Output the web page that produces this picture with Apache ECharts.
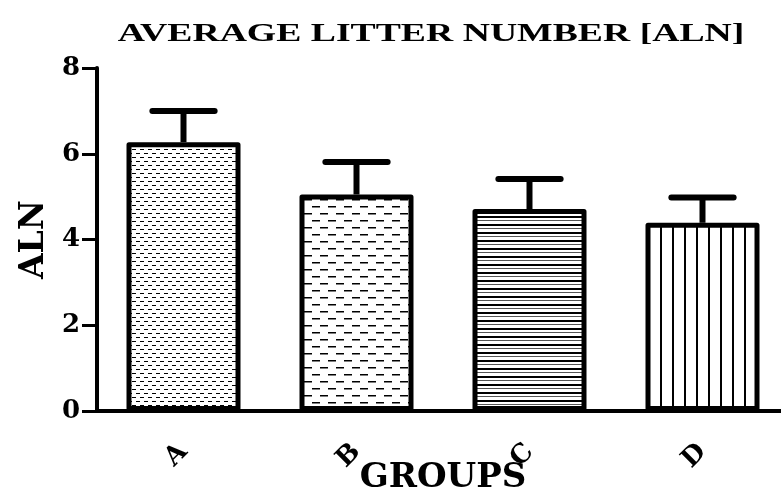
<!DOCTYPE html>
<html>
<head>
<meta charset="utf-8">
<script src="https://cdn.jsdelivr.net/npm/echarts@6/dist/echarts.min.js"></script>
<style>
  html, body { margin: 0; padding: 0; background: #fff; }
  #chart { width: 781px; height: 497px; }
</style>
</head>
<body>
<div id="chart"></div>
<script>
var groups = ['A', 'B', 'C', 'D'];
var alnMean = [6.27, 5.05, 4.71, 4.39];
var alnSd = [0.73, 0.76, 0.7, 0.59];
var yTicks = [0, 2, 4, 6, 8];

var serifFont = '"DejaVu Serif", "Liberation Serif", serif';
var timesFont = '"Liberation Serif", "DejaVu Serif", serif';

// fill patterns, drawn once on small canvases
function makePattern(w, h, draw) {
    var c = document.createElement('canvas');
    c.width = w;
    c.height = h;
    var ctx = c.getContext('2d');
    ctx.fillStyle = '#fff';
    ctx.fillRect(0, 0, w, h);
    ctx.fillStyle = '#000';
    draw(ctx);
    return { image: c, repeat: 'repeat' };
}

var patterns = [
    // fine dashes
    makePattern(8, 8, function (ctx) {
        ctx.fillRect(0, 1, 4, 1);
        ctx.fillRect(4, 5, 4, 1);
    }),
    // wide dashes
    makePattern(16, 14, function (ctx) {
        ctx.fillRect(0, 3, 8, 1.5);
        ctx.fillRect(8, 10, 8, 1.5);
    }),
    // horizontal lines
    makePattern(4, 8, function (ctx) {
        ctx.fillRect(0, 0, 4, 2);
        ctx.fillStyle = '#555';
        ctx.fillRect(0, 4, 4, 1);
    }),
    // vertical lines
    makePattern(12, 4, function (ctx) {
        ctx.fillRect(0, 0, 2, 4);
    })
];

var barData = alnMean.map(function (v, i) {
    return { value: v, itemStyle: { color: patterns[i] } };
});

var errData = alnMean.map(function (v, i) {
    return [i, v, v + alnSd[i]];
});

var myChart = echarts.init(document.getElementById('chart'));

var option = {
    animation: false,
    backgroundColor: '#fff',
    grid: { left: 97, right: -8, top: 68, bottom: 86, outerBoundsMode: 'none' },
    graphic: [{
        type: 'group',
        x: 431,
        y: 34,
        scaleX: 1.45,
        children: [{
            type: 'text',
            style: {
                text: 'AVERAGE LITTER NUMBER [ALN]',
                font: 'bold 26px ' + timesFont,
                fill: '#000',
                align: 'center',
                verticalAlign: 'middle'
            }
        }]
    }],
    xAxis: {
        type: 'category',
        data: groups,
        name: 'GROUPS',
        nameLocation: 'middle',
        nameGap: 50,
        nameMoveOverlap: false,
        nameTextStyle: { fontFamily: serifFont, fontWeight: 'bold', fontSize: 34, color: '#000' },
        axisLine: { lineStyle: { color: '#000', width: 4 } },
        axisTick: { alignWithLabel: true, length: 12, lineStyle: { color: '#000', width: 3 } },
        axisLabel: {
            rotate: 45,
            margin: 37,
            fontFamily: serifFont,
            fontWeight: 'bold',
            fontSize: 26,
            color: '#000'
        }
    },
    yAxis: {
        type: 'value',
        min: 0,
        max: 8,
        interval: 2,
        name: 'ALN',
        nameLocation: 'middle',
        nameGap: 46,
        nameMoveOverlap: false,
        nameTextStyle: { fontFamily: serifFont, fontWeight: 'bold', fontSize: 33, color: '#000' },
        splitLine: { show: false },
        axisLine: { show: true, lineStyle: { color: '#000', width: 4 } },
        axisTick: { show: true, length: 15, lineStyle: { color: '#000', width: 3 } },
        axisLabel: {
            margin: 17,
            fontFamily: serifFont,
            fontWeight: 'bold',
            fontSize: 26,
            color: '#000',
            formatter: function (v) {
                return yTicks.indexOf(v) >= 0 ? String(v) : '';
            }
        }
    },
    series: [{
        name: 'ALN',
        type: 'bar',
        barWidth: 114,
        z: 3,
        data: barData,
        itemStyle: { borderColor: '#000', borderWidth: 5, borderJoin: 'round' }
    }, {
        name: 'SD',
        type: 'custom',
        z: 2,
        data: errData,
        renderItem: function (params, api) {
            var base = api.coord([api.value(0), api.value(1)]);
            var top = api.coord([api.value(0), api.value(2)]);
            var half = api.size([1, 0])[0] * 0.18;
            return {
                type: 'group',
                children: [{
                    type: 'line',
                    shape: { x1: top[0], y1: top[1], x2: base[0], y2: base[1] },
                    style: { stroke: '#000', lineWidth: 6 }
                }, {
                    type: 'line',
                    shape: { x1: top[0] - half, y1: top[1], x2: top[0] + half, y2: top[1] },
                    style: { stroke: '#000', lineWidth: 6, lineCap: 'round' }
                }]
            };
        }
    }]
};

myChart.setOption(option);
</script>
</body>
</html>
